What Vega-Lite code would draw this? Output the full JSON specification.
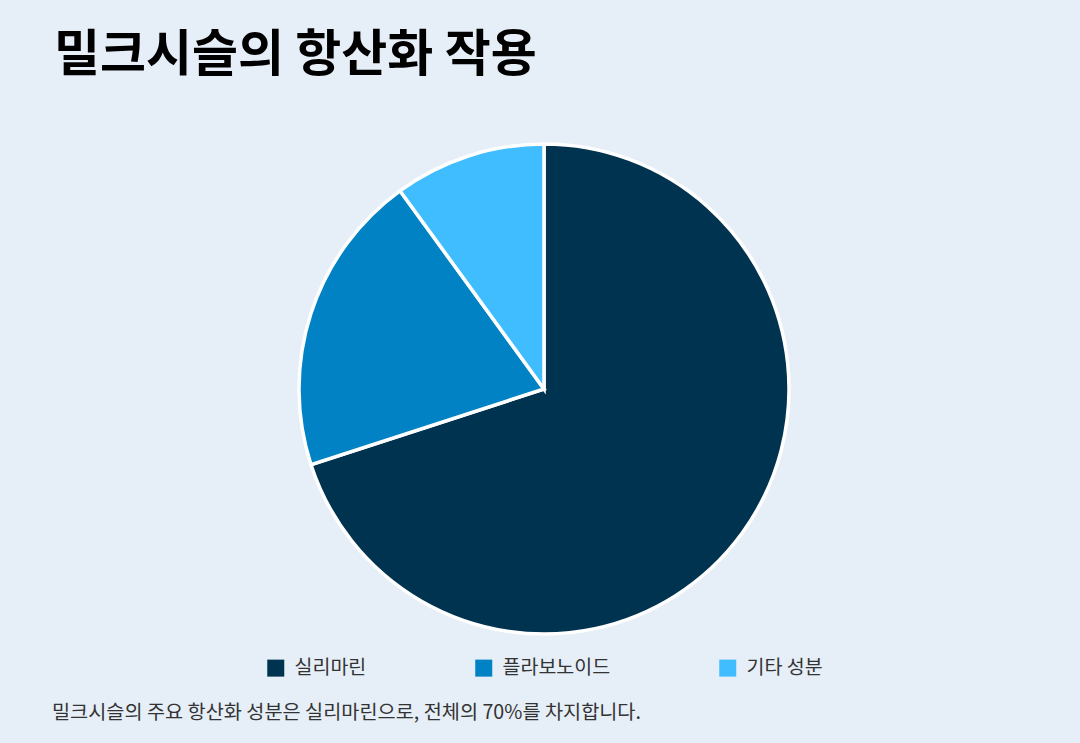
{
  "$schema": "https://vega.github.io/schema/vega-lite/v6.json",
  "background": "#e6eef7",
  "padding": {"left": 8, "top": 31, "right": 0, "bottom": 30},
  "title": {
    "text": "밀크시슬의 항산화 작용",
    "anchor": "start",
    "dx": 46,
    "fontSize": 50,
    "fontWeight": "bold",
    "font": "Noto Sans CJK KR",
    "color": "#000000",
    "offset": 56
  },
  "vconcat": [
    {
      "width": 1072,
      "height": 494,
      "title": {
        "text": "밀크시슬의 주요 항산화 성분은 실리마린으로, 전체의 70%를 차지합니다.",
        "orient": "bottom",
        "anchor": "start",
        "dx": 44,
        "offset": 25,
        "fontSize": 19.7,
        "fontWeight": "normal",
        "font": "Noto Sans CJK KR",
        "color": "#333333"
      },
      "data": {
        "values": [
          {"component": "실리마린", "value": 70},
          {"component": "플라보노이드", "value": 20},
          {"component": "기타 성분", "value": 10}
        ]
      },
      "mark": {"type": "arc", "outerRadius": 245, "stroke": "#ffffff", "strokeWidth": 3.5},
      "encoding": {
        "theta": {"field": "value", "type": "quantitative", "stack": true},
        "order": {"field": "value", "sort": "descending"},
        "color": {
          "field": "component",
          "type": "nominal",
          "scale": {
            "domain": ["실리마린", "플라보노이드", "기타 성분"],
            "range": ["#00334f", "#0082c4", "#40bdff"]
          },
          "legend": {
            "title": null,
            "orient": "bottom",
            "direction": "horizontal",
            "offset": 22,
            "columnPadding": 107,
            "symbolType": "square",
            "symbolSize": 289,
            "symbolStrokeWidth": 0,
            "symbolOpacity": 1,
            "labelFont": "Noto Sans CJK KR",
            "labelFontSize": 19.5,
            "labelColor": "#333333",
            "labelOffset": 9
          }
        }
      }
    }
  ],
  "resolve": {"legend": {"color": "independent"}},
  "config": {
    "view": {"stroke": null},
    "legend": {"layout": {"bottom": {"anchor": "middle"}}}
  }
}
